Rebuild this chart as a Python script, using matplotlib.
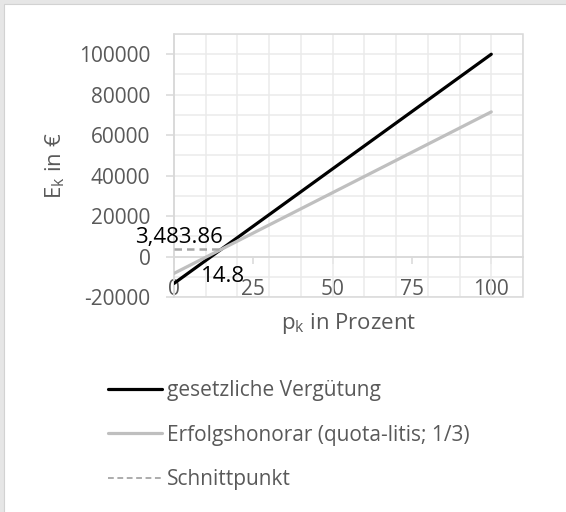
import matplotlib
matplotlib.use('Agg')
import matplotlib.pyplot as plt
from matplotlib.ticker import MultipleLocator, FixedLocator
from matplotlib.patches import Rectangle
from matplotlib.lines import Line2D

# ---- data ----
p_k = [0, 100]
gesetzlich = [-13280, 100000]
erfolg = [-8330, 71500]
schnitt_x = [0, 14.8]
schnitt_y = [3483.86, 3483.86]
x_ticks = [0, 25, 50, 75, 100]
y_ticks = [-20000, 0, 20000, 40000, 60000, 80000, 100000]
series_labels = ['gesetzliche Vergütung', 'Erfolgshonorar (quota-litis; 1/3)', 'Schnittpunkt']
label_y = '3,483.86'
label_x = '14.8'

plt.rcParams['font.family'] = ['Open Sans', 'DejaVu Sans']
TXT = '#595959'
AX = '#d9d9d9'

W, H = 566, 512
fig = plt.figure(figsize=(W / 100, H / 100), dpi=100)
fig.patch.set_facecolor('#e6e6e6')
fig.patches.append(Rectangle((4 / W, -0.01), 1.1, (H - 4) / H + 0.01, transform=fig.transFigure,
                             facecolor='white', edgecolor='#d2d2d2', lw=0.8, zorder=-5))

ax = fig.add_axes([174 / W, (H - 297) / H, 349 / W, 263 / H])
ax.set_zorder(2)
ax.set_facecolor('white')
ax.set_xlim(0, 110)
ax.set_ylim(-20000, 110000)

ax.xaxis.set_major_locator(FixedLocator(x_ticks))
ax.yaxis.set_major_locator(FixedLocator(y_ticks))
ax.xaxis.set_minor_locator(MultipleLocator(10))
ax.yaxis.set_minor_locator(MultipleLocator(10000))
ax.xaxis.remove_overlapping_locs = False
ax.yaxis.remove_overlapping_locs = False
ax.grid(which='minor', color='#ebebeb', lw=1.1, zorder=0)
ax.grid(which='major', visible=False)
ax.set_axisbelow(True)

for s in ['top', 'right']:
    ax.spines[s].set_visible(False)
ax.spines['left'].set_color(AX)
ax.spines['left'].set_linewidth(1.1)
ax.spines['bottom'].set_position(('data', 0))
ax.spines['bottom'].set_color(AX)
ax.spines['bottom'].set_linewidth(1.3)
ax.add_patch(Rectangle((0, 0), 1, 1, transform=ax.transAxes, fill=False,
                       edgecolor=AX, lw=1.1, clip_on=False, zorder=1))

ax.tick_params(axis='x', which='major', direction='out', length=5, width=1.1, color=AX,
               pad=11, labelcolor=TXT, labelsize=15)
ax.tick_params(axis='y', which='major', direction='out', length=6, width=1.1, color=AX,
               pad=11, labelcolor=TXT, labelsize=15)
ax.tick_params(which='minor', length=0)
ax.set_xticklabels([str(v) for v in x_ticks])
ax.set_yticklabels([str(v) for v in y_ticks])

l1, = ax.plot(p_k, gesetzlich, color='black', lw=2.3, solid_capstyle='round', zorder=3)
l2, = ax.plot(p_k, erfolg, color='#bfbfbf', lw=2.3, solid_capstyle='round', zorder=4)
l3, = ax.plot(schnitt_x, schnitt_y, color='#a6a6a6', lw=1.8, dashes=(3, 2), zorder=5)

ax.annotate(label_y, (schnitt_x[0], schnitt_y[0]), xytext=(3.6, 8.3), textcoords='offset points',
            ha='center', va='center', fontsize=16, color='black', zorder=6)
ax.annotate(label_x, (schnitt_x[1], schnitt_y[1]), xytext=(1.4, -19.8), textcoords='offset points',
            ha='center', va='center', fontsize=16, color='black', zorder=6)

ax.set_xlabel(r'p$_\mathregular{k}$ in Prozent', fontsize=16, color=TXT, va='center')
ax.xaxis.set_label_coords(0.5, -0.099)
ax.set_ylabel(r'E$_\mathregular{k}$ in €', fontsize=16, color=TXT, va='center')
ax.yaxis.set_label_coords(-0.34, 0.5)

h3 = Line2D([], [], color='#a6a6a6', lw=1.3, dashes=(3.2, 2))
leg = fig.legend([l1, l2, h3], series_labels, loc='upper left',
                 bbox_to_anchor=(108 / W, (H - 380) / H), frameon=False,
                 fontsize=15, handlelength=2.6, handletextpad=0.24,
                 labelspacing=1.13, borderpad=0, borderaxespad=0)
for t in leg.get_texts():
    t.set_color(TXT)

fig.savefig('out.png', dpi=100, facecolor=fig.get_facecolor())
